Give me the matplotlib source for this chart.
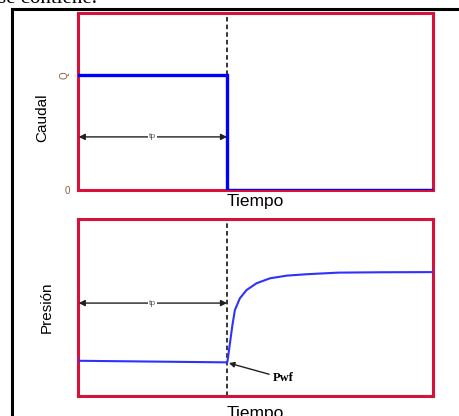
import numpy as np
import matplotlib.pyplot as plt
from matplotlib.lines import Line2D

# datos (tiempo normalizado 0-10, tp = 4.2)
tp = 4.2
q_val = 0.65
t_caudal = [0.0, tp, tp, 10.0]
caudal = [q_val, q_val, 0.0, 0.0]

t_pres = [0.0, 4.20, 4.21, 4.28, 4.35, 4.42, 4.56, 4.75, 5.03, 5.41, 5.88, 6.44, 7.33, 8.5, 10.0]
presion = [0.199, 0.190, 0.194, 0.298, 0.401, 0.486, 0.552, 0.599, 0.637, 0.665, 0.680, 0.688, 0.697, 0.699, 0.700]

pwf_t, pwf_p = 4.25, 0.186
yticks_caudal = [0.0, q_val]
yticklabels_caudal = ['0', 'Q']

red = '#d8103c'
font = 'Liberation Sans'

fig = plt.figure(figsize=(4.6, 4.16), dpi=100)
W, H = 460.0, 416.0

def box(x0, y0, x1, y1):
    return [x0 / W, 1 - y1 / H, (x1 - x0) / W, (y1 - y0) / H]

ax1 = fig.add_axes(box(78, 13, 433, 190))
ax2 = fig.add_axes(box(78, 219, 433, 396))

for ax in (ax1, ax2):
    ax.set_xlim(0, 10)
    ax.set_ylim(0, 1)
    ax.set_xticks([])
    for s in ax.spines.values():
        s.set_color(red)
        s.set_linewidth(2.2)
ax1.set_xlabel('Tiempo', family=font, fontsize=12.5, labelpad=3)
ax2.set_xlabel('Tiempo', family=font, fontsize=12.5, labelpad=7)

# caudal
ax1.plot(t_caudal, caudal, color='#0000ff', lw=2.4, solid_joinstyle='miter', zorder=3)
ax1.plot([tp, tp], [q_val, 1], color='black', lw=1.1, ls=(0, (3, 2)))
ax1.set_yticks(yticks_caudal)
ax1.set_yticklabels(yticklabels_caudal, family=font, fontsize=7, color='#806040')
ax1.get_yticklabels()[1].set_rotation(90)
ax1.get_yticklabels()[1].set_va('center')
ax1.tick_params(axis='y', length=0, pad=6)
ax1.set_ylabel('Caudal', family=font, fontsize=11)
ax1.yaxis.set_label_coords(-0.082, 0.41)
ax1.annotate('', xy=(0.02, 0.30), xytext=(tp, 0.30),
             arrowprops=dict(arrowstyle='<|-|>', color='#202020', lw=1.0, mutation_scale=9,
                             shrinkA=0, shrinkB=0))
ax1.text(tp / 2, 0.30, 'tp', ha='center', va='center', family=font, fontsize=6, color='#555555',
         bbox=dict(facecolor='white', edgecolor='none', pad=0.5))

# presion
ax2.plot(t_pres, presion, color='#3030ff', lw=1.5, zorder=3)
ax2.axvline(tp, color='black', lw=1.1, ls=(0, (3, 2)))
ax2.set_yticks([])
ax2.set_ylabel('Presión', family=font, fontsize=11)
ax2.yaxis.set_label_coords(-0.068, 0.5)
ax2.annotate('', xy=(0.02, 0.525), xytext=(tp, 0.525),
             arrowprops=dict(arrowstyle='<|-|>', color='#202020', lw=1.0, mutation_scale=9,
                             shrinkA=0, shrinkB=0))
ax2.text(tp / 2, 0.525, 'tp', ha='center', va='center', family=font, fontsize=6, color='#555555',
         bbox=dict(facecolor='white', edgecolor='none', pad=0.5))
ax2.annotate('Pwf', xy=(pwf_t, pwf_p), xytext=(5.5, 0.10), va='center', ha='left',
             family='Liberation Serif', fontsize=9, fontweight='bold',
             arrowprops=dict(arrowstyle='-|>', color='#202020', lw=1.0, mutation_scale=8,
                             shrinkA=1, shrinkB=0))

# marco del documento y texto cortado
fig.add_artist(Line2D([12.5 / W, 12.5 / W], [0, 1 - 9 / H], color='black', lw=2.2))
fig.add_artist(Line2D([12.5 / W, 1], [1 - 9 / H, 1 - 9 / H], color='black', lw=2.2))
fig.text(-2 / W, 1 - 3 / H, 'se contiene.', family='Liberation Serif', fontsize=15, va='baseline')

fig.savefig('out.png', dpi=100)
